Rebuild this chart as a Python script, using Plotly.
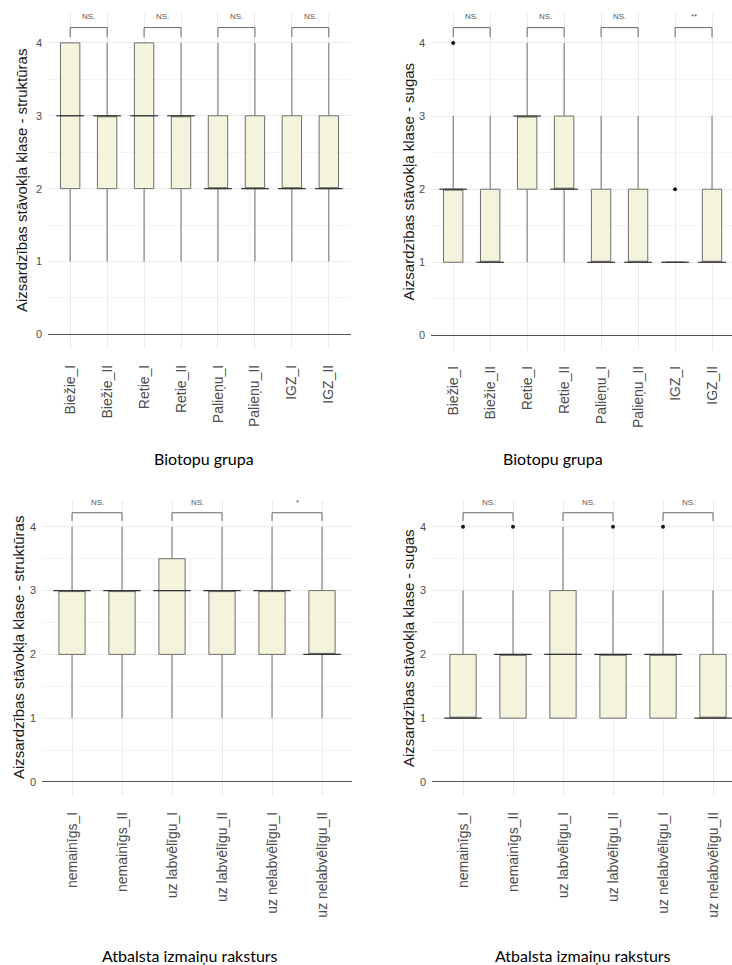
import plotly.graph_objects as go

W, H = 732, 965

# --- Biotope groups -------------------------------------------------------
cats_bio = ["Biežie_I", "Biežie_II", "Retie_I", "Retie_II",
            "Palieņu_I", "Palieņu_II", "IGZ_I", "IGZ_II"]

# conservation status class – structures
str_bio_lo = [1, 1, 1, 1, 1, 1, 1, 1]
str_bio_q1 = [2, 2, 2, 2, 2, 2, 2, 2]
str_bio_med = [3, 3, 3, 3, 2, 2, 2, 2]
str_bio_q3 = [4, 3, 4, 3, 3, 3, 3, 3]
str_bio_hi = [4, 4, 4, 4, 4, 4, 4, 4]
str_bio_out_x = []
str_bio_out_y = []
str_bio_sig = ["NS.", "NS.", "NS.", "NS."]

# conservation status class – species
sug_bio_lo = [1, 1, 1, 1, 1, 1, 1, 1]
sug_bio_q1 = [1, 1, 2, 2, 1, 1, 1, 1]
sug_bio_med = [2, 1, 3, 2, 1, 1, 1, 1]
sug_bio_q3 = [2, 2, 3, 3, 2, 2, 1, 2]
sug_bio_hi = [3, 3, 4, 4, 3, 3, 1, 3]
sug_bio_out_x = ["Biežie_I", "IGZ_I"]
sug_bio_out_y = [4, 2]
sug_bio_sig = ["NS.", "NS.", "NS.", "**"]

# --- Direction of support change -----------------------------------------
cats_chg = ["nemainīgs_I", "nemainīgs_II", "uz labvēlīgu_I",
            "uz labvēlīgu_II", "uz nelabvēlīgu_I", "uz nelabvēlīgu_II"]

str_chg_lo = [1, 1, 1, 1, 1, 1]
str_chg_q1 = [2, 2, 2, 2, 2, 2]
str_chg_med = [3, 3, 3, 3, 3, 2]
str_chg_q3 = [3, 3, 3.5, 3, 3, 3]
str_chg_hi = [4, 4, 4, 4, 4, 4]
str_chg_out_x = []
str_chg_out_y = []
str_chg_sig = ["NS.", "NS.", "*"]

sug_chg_lo = [1, 1, 1, 1, 1, 1]
sug_chg_q1 = [1, 1, 1, 1, 1, 1]
sug_chg_med = [1, 2, 2, 2, 2, 1]
sug_chg_q3 = [2, 2, 3, 2, 2, 2]
sug_chg_hi = [3, 3, 4, 3, 3, 3]
sug_chg_out_x = ["nemainīgs_I", "nemainīgs_II", "uz labvēlīgu_II", "uz nelabvēlīgu_I"]
sug_chg_out_y = [4, 4, 4, 4]
sug_chg_sig = ["NS.", "NS.", "NS."]

ytitle_str = "Aizsardzības stāvokļa klase - struktūras"
ytitle_sug = "Aizsardzības stāvokļa klase - sugas"
xtitle_bio = "Biotopu grupa"
xtitle_chg = "Atbalsta izmaiņu raksturs"

FILL = "#F4F3DC"
EDGE = "#6E6E6E"
GRID = "#EBEBEB"
MINOR = "#F4F4F4"
TICK = "#4D4D4D"
BASE_FONT = "Liberation Sans, Arial, sans-serif"
TITLE_FONT = "Lato, Open Sans, sans-serif"

# panel rectangles in pixels: (left, right, top, bottom), x range, y range
panels = [
    dict(cats=cats_bio, lo=str_bio_lo, q1=str_bio_q1, med=str_bio_med, q3=str_bio_q3,
         hi=str_bio_hi, ox=str_bio_out_x, oy=str_bio_out_y, sig=str_bio_sig,
         px=(48, 351, 13, 349), xr=[-0.6, 7.6], yr=[-0.2, 4.41],
         ytitle=ytitle_str, ytx=21, xtitle=xtitle_bio, xtx=204, xty=458),
    dict(cats=cats_bio, lo=sug_bio_lo, q1=sug_bio_q1, med=sug_bio_med, q3=sug_bio_q3,
         hi=sug_bio_hi, ox=sug_bio_out_x, oy=sug_bio_out_y, sig=sug_bio_sig,
         px=(431, 732, 13, 350), xr=[-0.6, 7.54], yr=[-0.2, 4.41],
         ytitle=ytitle_sug, ytx=408, xtitle=xtitle_bio, xtx=553, xty=458),
    dict(cats=cats_chg, lo=str_chg_lo, q1=str_chg_q1, med=str_chg_med, q3=str_chg_q3,
         hi=str_chg_hi, ox=str_chg_out_x, oy=str_chg_out_y, sig=str_chg_sig,
         px=(42, 352, 500, 796), xr=[-0.6, 5.6], yr=[-0.22, 4.42],
         ytitle=ytitle_str, ytx=18, xtitle=xtitle_chg, xtx=190, xty=955),
    dict(cats=cats_chg, lo=sug_chg_lo, q1=sug_chg_q1, med=sug_chg_med, q3=sug_chg_q3,
         hi=sug_chg_hi, ox=sug_chg_out_x, oy=sug_chg_out_y, sig=sug_chg_sig,
         px=(432, 732, 500, 796), xr=[-0.62, 5.38], yr=[-0.22, 4.42],
         ytitle=ytitle_sug, ytx=408, xtitle=xtitle_chg, xtx=583, xty=955),
]

fig = go.Figure()
shapes = []
annotations = []

for i, p in enumerate(panels, start=1):
    xa = "x" if i == 1 else f"x{i}"
    ya = "y" if i == 1 else f"y{i}"
    left, right, top, bottom = p["px"]

    fig.add_trace(go.Box(
        x=p["cats"], q1=p["q1"], median=p["med"], q3=p["q3"],
        lowerfence=p["lo"], upperfence=p["hi"],
        boxpoints=False, whiskerwidth=0,
        fillcolor=FILL, line=dict(color=EDGE, width=1),
        xaxis=xa, yaxis=ya, showlegend=False, hoverinfo="skip",
    ))
    # darker median segment, as in ggplot boxplots
    for k, c in enumerate(p["cats"]):
        shapes.append(dict(type="line", xref=xa, yref=ya,
                           x0=k - 0.375, x1=k + 0.375, y0=p["med"][k], y1=p["med"][k],
                           line=dict(color="#333333", width=1.2), layer="above"))
    if p["ox"]:
        fig.add_trace(go.Scatter(
            x=p["ox"], y=p["oy"], mode="markers",
            marker=dict(color="#1a1a1a", size=4),
            xaxis=xa, yaxis=ya, showlegend=False, hoverinfo="skip",
        ))

    # significance brackets between paired groups
    yb, yt = p["yr"][1] - 0.33, p["yr"][1] - 0.2
    ytext = p["yr"][1] - 0.14
    for j, lab in enumerate(p["sig"]):
        a, b = 2 * j, 2 * j + 1
        shapes.append(dict(type="path", xref=xa, yref=ya,
                           path=f"M {a},{yb} L {a},{yt} L {b},{yt} L {b},{yb}",
                           line=dict(color="#666666", width=1)))
        annotations.append(dict(x=(a + b) / 2, y=ytext, xref=xa, yref=ya,
                                text=lab, showarrow=False,
                                font=dict(size=8, color="#555555", family=BASE_FONT),
                                yanchor="bottom"))

    dom_x = [left / W, right / W]
    dom_y = [1 - bottom / H, 1 - top / H]
    fig.update_layout(**{
        ("xaxis" if i == 1 else f"xaxis{i}"): dict(
            domain=dom_x, range=p["xr"], type="category",
            categoryorder="array", categoryarray=p["cats"],
            showgrid=True, gridcolor=GRID, gridwidth=1, zeroline=False,
            showline=False, ticks="", tickangle=-90, ticklabelstandoff=12,
            tickfont=dict(size=14, color=TICK, family=BASE_FONT),
            anchor=ya, fixedrange=True),
        ("yaxis" if i == 1 else f"yaxis{i}"): dict(
            domain=dom_y, range=p["yr"], tickvals=[0, 1, 2, 3, 4],
            showgrid=True, gridcolor=GRID, gridwidth=1,
            minor=dict(tickvals=[0.5, 1.5, 2.5, 3.5], showgrid=True,
                       gridcolor=MINOR, gridwidth=1),
            zeroline=True, zerolinecolor="#555555", zerolinewidth=1,
            showline=False, ticks="", ticklabelstandoff=5,
            tickfont=dict(size=11, color=TICK, family=BASE_FONT),
            anchor=xa, fixedrange=True),
    })

    annotations.append(dict(x=p["ytx"] / W, y=1 - (top + bottom) / 2 / H,
                            xref="paper", yref="paper", text=p["ytitle"],
                            textangle=-90, showarrow=False,
                            font=dict(size=15, color="#1a1a1a", family=BASE_FONT),
                            xanchor="center", yanchor="middle"))
    annotations.append(dict(x=p["xtx"] / W, y=1 - p["xty"] / H,
                            xref="paper", yref="paper", text=p["xtitle"],
                            showarrow=False,
                            font=dict(size=16, color="#000000", family=TITLE_FONT),
                            xanchor="center", yanchor="middle"))

fig.update_layout(
    width=W, height=H, margin=dict(l=0, r=0, t=0, b=0),
    paper_bgcolor="white", plot_bgcolor="white",
    boxgap=0.25, shapes=shapes, annotations=annotations,
)

fig.write_html("out.html")
